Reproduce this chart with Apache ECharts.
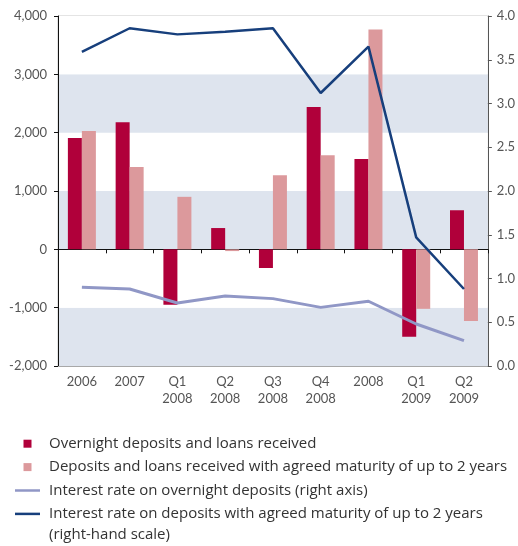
<!DOCTYPE html>
<html><head><meta charset="utf-8">
<script src="https://cdn.jsdelivr.net/npm/echarts@6/dist/echarts.min.js"></script>
<style>html,body{margin:0;padding:0;background:#fff}#c{width:518px;height:546px}</style>
</head><body><div id="c"></div>
<script>
var categories = ['2006','2007','Q1\n2008','Q2\n2008','Q3\n2008','Q4\n2008','2008','Q1\n2009','Q2\n2009'];
var overnightDeposits = [1910, 2180, -950, 365, -320, 2440, 1550, -1500, 670];
var maturityDeposits = [2030, 1410, 900, -30, 1270, 1615, 3770, -1020, -1230];
var rateOvernight = [0.90, 0.88, 0.72, 0.80, 0.77, 0.67, 0.74, 0.48, 0.29];
var rateMaturity = [3.59, 3.86, 3.79, 3.82, 3.86, 3.12, 3.65, 1.47, 0.88];
var seriesNames = ['Overnight deposits and loans received',
  'Deposits and loans received with agreed maturity of up to 2 years',
  'Interest rate on overnight deposits (right axis)',
  'Interest rate on deposits with agreed maturity of up to 2 years'];
var nameContinuation = '(right-hand scale)';

var FONT = 'Lato';
var LFONT = 'Open Sans';
var chart = echarts.init(document.getElementById('c'));
chart.setOption({
  animation: false,
  textStyle: {fontFamily: FONT},
  grid: {left: 58, right: 30, top: 16, bottom: 180, show: true, borderColor: '#c8c8c8', borderWidth: 1, backgroundColor: 'transparent'},
  xAxis: [{
    type: 'category', data: categories, position: 'bottom',
    axisLine: {onZero: false, lineStyle: {color: '#a8a8a8', width: 1}},
    axisTick: {show: false},
    axisLabel: {color: '#555', fontSize: 13, lineHeight: 17, margin: 7, fontFamily: FONT}
  }, {
    type: 'category', data: categories, position: 'bottom',
    axisLine: {onZero: true, onZeroAxisIndex: 0, lineStyle: {color: '#111', width: 1}},
    axisTick: {show: true, inside: false, length: 4, lineStyle: {color: '#111'}},
    axisLabel: {show: false}
  }],
  yAxis: [{
    type: 'value', min: -2000, max: 4000, interval: 1000, position: 'left',
    axisLine: {show: true, lineStyle: {color: '#111'}},
    axisTick: {show: true, length: 4, lineStyle: {color: '#111'}},
    axisLabel: {color: '#555', fontSize: 13, margin: 11, fontFamily: FONT,
      formatter: function (v) { return (v < 0 ? '-' : '') + Math.abs(v).toLocaleString('en-US'); }},
    splitLine: {show: false},
    splitArea: {show: true, areaStyle: {color: ['#dee4ee', '#ffffff']}}
  }, {
    type: 'value', min: 0, max: 4, interval: 0.5, position: 'right',
    axisLine: {show: true, lineStyle: {color: '#555'}},
    axisTick: {show: true, length: 4, lineStyle: {color: '#555'}},
    axisLabel: {color: '#555', fontSize: 13, margin: 9, fontFamily: FONT,
      formatter: function (v) { return v.toFixed(1); }},
    splitLine: {show: false}
  }],
  legend: {
    orient: 'vertical', left: 10, top: 427, itemWidth: 25, itemHeight: 8, itemGap: 0,
    textStyle: {fontSize: 15, color: '#333', lineHeight: 23.4, padding: [0, 0, 0, 4], fontFamily: LFONT},
    data: [
      {name: seriesNames[0], icon: 'path://M0,0h8v8h-8z'},
      {name: seriesNames[1], icon: 'path://M0,0h8v8h-8z'},
      {name: seriesNames[2], icon: 'path://M0,0h25v2.5h-25z'},
      {name: seriesNames[3], icon: 'path://M0,0h25v2.5h-25z'}
    ]
  },
  graphic: [{
    type: 'text', left: 49, top: 527,
    style: {text: nameContinuation, fontSize: 15, fill: '#333', fontFamily: LFONT}
  }],
  series: [
    {name: seriesNames[0], type: 'bar', data: overnightDeposits, barWidth: 14, barGap: '0%',
      itemStyle: {color: '#b0003a'}},
    {name: seriesNames[1], type: 'bar', data: maturityDeposits, barWidth: 14, barGap: '0%',
      itemStyle: {color: '#dc999c'}},
    {name: seriesNames[2], type: 'line', yAxisIndex: 1, data: rateOvernight, symbol: 'none',
      lineStyle: {color: '#9097c6', width: 3}, itemStyle: {color: '#9097c6'}, z: 5},
    {name: seriesNames[3], type: 'line', yAxisIndex: 1, data: rateMaturity, symbol: 'none',
      lineStyle: {color: '#173f7c', width: 2.5}, itemStyle: {color: '#173f7c'}, z: 5}
  ]
});
</script></body></html>
